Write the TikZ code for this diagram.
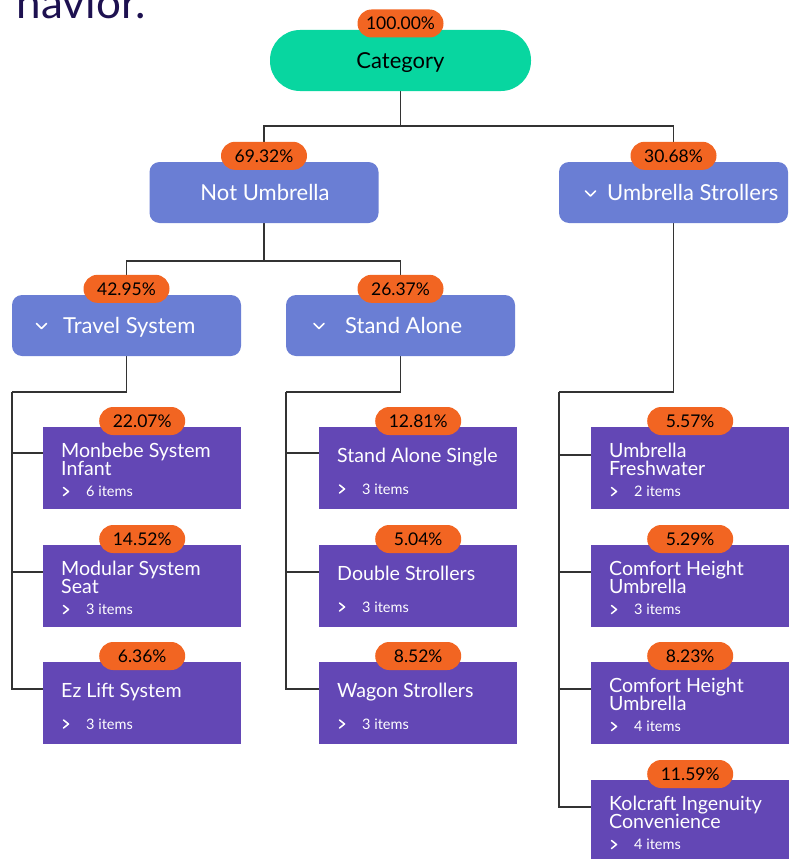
\documentclass[tikz,border=0pt]{standalone}
\usepackage{fontspec}
\setmainfont{Lato}
\usetikzlibrary{backgrounds,calc}
\definecolor{catgreen}{RGB}{8,214,160}
\definecolor{midblue}{RGB}{106,126,212}
\definecolor{leafpurple}{RGB}{99,71,181}
\definecolor{badgeorange}{RGB}{242,101,34}
\definecolor{headnavy}{RGB}{29,17,80}
\definecolor{conncol}{RGB}{51,51,51}
\tikzset{
  rootbox/.style={fill=catgreen, rounded corners=30pt, minimum width=261pt, minimum height=61pt, inner sep=0pt},
  midbox/.style={fill=midblue, rounded corners=10pt, minimum width=229pt, minimum height=61pt, inner sep=0pt},
  leafbox/.style={fill=leafpurple, minimum width=198pt, minimum height=82pt, inner sep=0pt},
  badge/.style={fill=badgeorange, rounded corners=14pt, minimum width=86pt, minimum height=28pt, inner sep=0pt, font=\fontsize{17.5}{20}\selectfont},
  roottext/.style={anchor=base, inner sep=0pt, font=\fontsize{22}{24}\selectfont},
  midtext/.style={anchor=base west, inner sep=0pt, text=white, font=\fontsize{22}{24}\selectfont},
  ltitle/.style={anchor=base west, inner sep=0pt, text=white, font=\fontsize{19.6}{20}\selectfont},
  litem/.style={anchor=base west, inner sep=0pt, text=white, font=\fontsize{14.5}{16}\selectfont},
  chev/.style={draw=white, line width=1.5pt, line cap=round, line join=round},
  conn/.style={draw=conncol, line width=1.1pt},
}
\newcommand{\leafTwo}[7]{%
  \node[leafbox, anchor=north west] (#1) at (#2,#3) {};
  \node[badge] (#1b) at ($(#1.north)+(0,-6)$) {#4};
  \node[ltitle] (#1ta) at ($(#1.north west)+(18,30)$) {#5};
  \node[ltitle] (#1tb) at ($(#1.north west)+(18,48)$) {#6};
  \draw[chev] ($(#1.north west)+(20.5,60.5)$) -- ++(5,4) -- ++(-5,4);
  \node[litem] (#1i) at ($(#1.north west)+(43,69)$) {#7 items};
}
\newcommand{\leafOne}[6]{%
  \node[leafbox, anchor=north west] (#1) at (#2,#3) {};
  \node[badge] (#1b) at ($(#1.north)+(0,-6)$) {#4};
  \node[ltitle] (#1ta) at ($(#1.north west)+(18,35.5)$) {#5};
  \draw[chev] ($(#1.north west)+(20.5,58)$) -- ++(5,4) -- ++(-5,4);
  \node[litem] (#1i) at ($(#1.north west)+(43,67)$) {#6 items};
}
\begin{document}
\begin{tikzpicture}[x=1pt,y=-1pt]
\useasboundingbox (0,0) rectangle (789,859);
\clip (0,0) rectangle (789,859);

% heading fragment (cut by the top edge, as in the reference)
\node[anchor=base east, inner sep=0pt, text=headnavy, font=\fontsize{44}{48}\selectfont] (head) at (146,18.5) {havior.};

% root
\node[rootbox] (root) at (400.5,60.5) {};
\node[roottext] (roott) at (400.5,68.5) {Category};
\node[badge] (rootb) at (400.5,23.5) {100.00\%};

% level 1
\node[midbox] (nu) at (264,192.5) {};
\node[anchor=base, inner sep=0pt, text=white, font=\fontsize{22}{24}\selectfont] (nut) at (265,200) {Not Umbrella};
\node[badge] (nub) at ($(nu.north)+(0,-6)$) {69.32\%};

\node[midbox] (us) at (673.5,192.5) {};
\draw[chev] (585.5,191) -- (590.5,196) -- (595.5,191);
\node[midtext] (ust) at (607,200) {Umbrella Strollers};
\node[badge] (usb) at ($(us.north)+(0,-6)$) {30.68\%};

% level 2
\node[midbox] (ts) at (126.5,325.5) {};
\draw[chev] (36.5,323.5) -- (41.5,328.5) -- (46.5,323.5);
\node[midtext] (tst) at (63,333) {Travel System};
\node[badge] (tsb) at ($(ts.north)+(0,-6)$) {42.95\%};

\node[midbox] (sa) at (400.5,325.5) {};
\draw[chev] (314,323.5) -- (319,328.5) -- (324,323.5);
\node[midtext] (sat) at (345,333) {Stand Alone};
\node[badge] (sab) at ($(sa.north)+(0,-6)$) {26.37\%};

% leaves
\leafTwo{la}{43}{427}{22.07\%}{Monbebe System}{Infant}{6}
\leafTwo{lb}{43}{545}{14.52\%}{Modular System}{Seat}{3}
\leafOne{lc}{43}{662}{6.36\%}{Ez Lift System}{3}

\leafOne{ma}{319}{427}{12.81\%}{Stand Alone Single}{3}
\leafOne{mb}{319}{545}{5.04\%}{Double Strollers}{3}
\leafOne{mc}{319}{662}{8.52\%}{Wagon Strollers}{3}

\leafTwo{ra}{591}{427}{5.57\%}{Umbrella}{Freshwater}{2}
\leafTwo{rb}{591}{545}{5.29\%}{Comfort Height}{Umbrella}{3}
\leafTwo{rc}{591}{662}{8.23\%}{Comfort Height}{Umbrella}{4}
\leafTwo{rd}{591}{780}{11.59\%}{Kolcraft Ingenuity}{Convenience}{4}

% connectors
\coordinate (bar0) at (400.5,126);
\coordinate (bar1) at (264,261);
\coordinate (spA) at (12,392);
\coordinate (spB) at (286,392);
\coordinate (spC) at (559,392);
\coordinate (inla) at ($(la.north west)+(0,26)$);
\coordinate (inlb) at ($(lb.north west)+(0,27)$);
\coordinate (inlc) at ($(lc.north west)+(0,27)$);
\coordinate (inma) at ($(ma.north west)+(0,26)$);
\coordinate (inmb) at ($(mb.north west)+(0,27)$);
\coordinate (inmc) at ($(mc.north west)+(0,27)$);
\coordinate (inra) at ($(ra.north west)+(0,28)$);
\coordinate (inrb) at ($(rb.north west)+(0,27)$);
\coordinate (inrc) at ($(rc.north west)+(0,27)$);
\coordinate (inrd) at ($(rd.north west)+(0,27)$);
\begin{pgfonlayer}{background}
\draw[conn] (root.south) -- (bar0) -| (nu.north);
\draw[conn] (bar0) -| (us.north);
\draw[conn] (nu.south) -- (bar1) -| (ts.north);
\draw[conn] (bar1) -| (sa.north);
\draw[conn] (ts.south) |- (spA);
\draw[conn] (spA) |- (inla);
\draw[conn] (spA) |- (inlb);
\draw[conn] (spA) |- (inlc);
\draw[conn] (sa.south) |- (spB);
\draw[conn] (spB) |- (inma);
\draw[conn] (spB) |- (inmb);
\draw[conn] (spB) |- (inmc);
\draw[conn] (us.south) |- (spC);
\draw[conn] (spC) |- (inra);
\draw[conn] (spC) |- (inrb);
\draw[conn] (spC) |- (inrc);
\draw[conn] (spC) |- (inrd);
\end{pgfonlayer}
\end{tikzpicture}
\end{document}
